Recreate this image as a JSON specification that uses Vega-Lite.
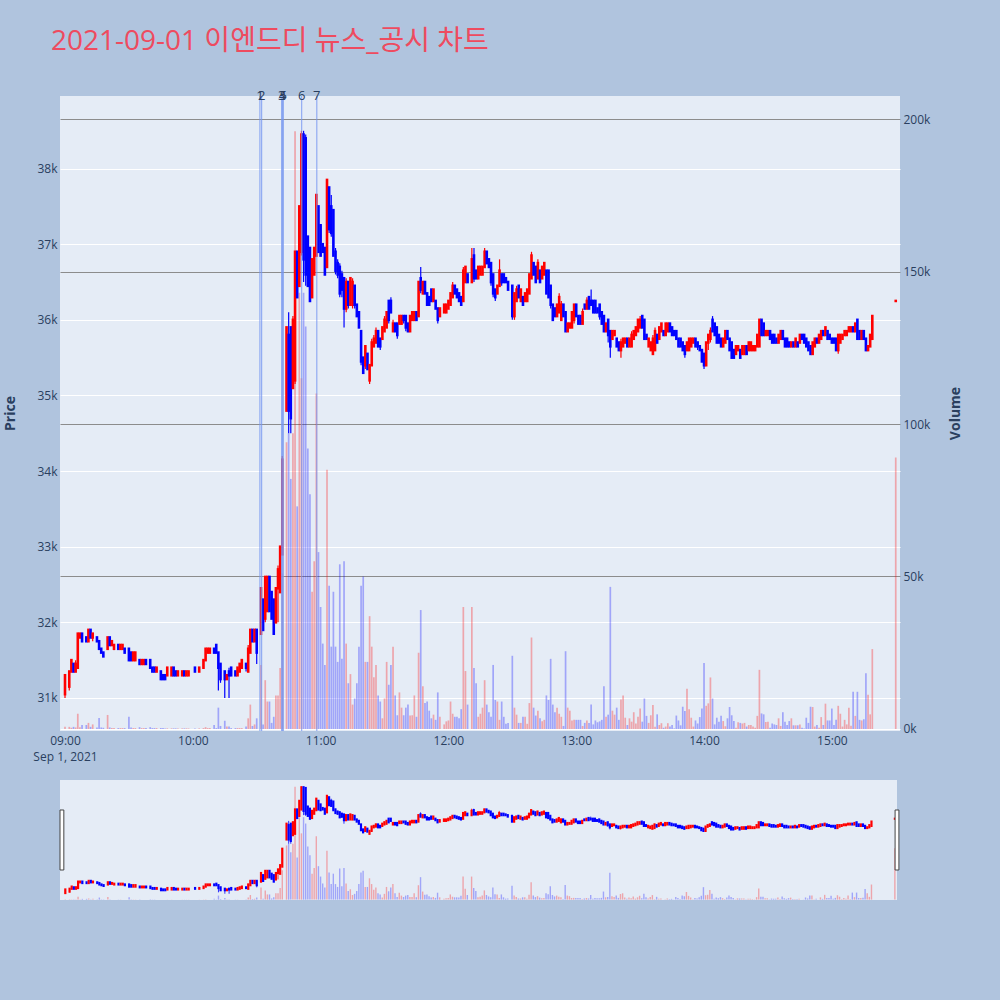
{
"$schema": "https://vega.github.io/schema/vega-lite/v6.json",
"background": "#b0c4de",
"padding": {"left": 3, "top": 28, "right": 38, "bottom": 101},
"title": {"text": "2021-09-01 이엔드디 뉴스_공시 차트", "anchor": "start", "frame": "bounds", "fontSize": 28, "font": "Open Sans, Noto Sans CJK KR, sans-serif", "fontWeight": "normal", "color": "#ee4b5f", "dx": 48, "offset": 34},
"datasets": {
"ohlc": [
{"t":0,"o":31050,"h":31300,"l":31000,"c":31300,"v":700},
{"t":2,"o":31150,"h":31350,"l":31100,"c":31350,"v":700},
{"t":3,"o":31350,"h":31500,"l":31350,"c":31500,"v":400},
{"t":4,"o":31450,"h":31450,"l":31350,"c":31350,"v":700},
{"t":5,"o":31350,"h":31500,"l":31350,"c":31450,"v":500},
{"t":6,"o":31400,"h":31850,"l":31400,"c":31850,"v":5000},
{"t":7,"o":31800,"h":31850,"l":31800,"c":31850,"v":600},
{"t":8,"o":31850,"h":31850,"l":31750,"c":31750,"v":1300},
{"t":10,"o":31800,"h":31800,"l":31750,"c":31750,"v":1300},
{"t":11,"o":31750,"h":31900,"l":31750,"c":31900,"v":2000},
{"t":12,"o":31900,"h":31900,"l":31800,"c":31800,"v":700},
{"t":13,"o":31800,"h":31850,"l":31750,"c":31850,"v":1500},
{"t":15,"o":31800,"h":31800,"l":31750,"c":31750,"v":500},
{"t":16,"o":31750,"h":31750,"l":31650,"c":31650,"v":3600},
{"t":17,"o":31650,"h":31650,"l":31600,"c":31600,"v":500},
{"t":18,"o":31600,"h":31600,"l":31550,"c":31550,"v":400},
{"t":20,"o":31650,"h":31800,"l":31650,"c":31800,"v":4600},
{"t":21,"o":31800,"h":31800,"l":31700,"c":31700,"v":500},
{"t":22,"o":31700,"h":31750,"l":31700,"c":31750,"v":300},
{"t":23,"o":31650,"h":31700,"l":31650,"c":31700,"v":300},
{"t":25,"o":31700,"h":31700,"l":31650,"c":31650,"v":300},
{"t":26,"o":31650,"h":31700,"l":31650,"c":31700,"v":300},
{"t":27,"o":31650,"h":31700,"l":31650,"c":31700,"v":300},
{"t":28,"o":31650,"h":31650,"l":31600,"c":31600,"v":300},
{"t":30,"o":31650,"h":31650,"l":31500,"c":31500,"v":4000},
{"t":31,"o":31600,"h":31600,"l":31500,"c":31500,"v":500},
{"t":32,"o":31500,"h":31600,"l":31500,"c":31600,"v":300},
{"t":33,"o":31500,"h":31600,"l":31500,"c":31600,"v":300},
{"t":35,"o":31500,"h":31500,"l":31450,"c":31450,"v":600},
{"t":36,"o":31450,"h":31500,"l":31450,"c":31500,"v":300},
{"t":37,"o":31450,"h":31500,"l":31450,"c":31500,"v":300},
{"t":38,"o":31500,"h":31500,"l":31450,"c":31450,"v":300},
{"t":40,"o":31500,"h":31500,"l":31400,"c":31400,"v":600},
{"t":41,"o":31400,"h":31400,"l":31350,"c":31350,"v":300},
{"t":42,"o":31400,"h":31400,"l":31350,"c":31350,"v":300},
{"t":43,"o":31350,"h":31400,"l":31350,"c":31400,"v":300},
{"t":45,"o":31350,"h":31350,"l":31250,"c":31250,"v":300},
{"t":46,"o":31300,"h":31300,"l":31250,"c":31250,"v":300},
{"t":47,"o":31300,"h":31300,"l":31250,"c":31250,"v":200},
{"t":48,"o":31300,"h":31400,"l":31300,"c":31400,"v":200},
{"t":50,"o":31300,"h":31400,"l":31300,"c":31400,"v":200},
{"t":51,"o":31400,"h":31400,"l":31300,"c":31300,"v":200},
{"t":52,"o":31350,"h":31350,"l":31300,"c":31300,"v":200},
{"t":53,"o":31300,"h":31350,"l":31300,"c":31350,"v":200},
{"t":55,"o":31300,"h":31350,"l":31300,"c":31350,"v":200},
{"t":56,"o":31350,"h":31350,"l":31300,"c":31300,"v":200},
{"t":57,"o":31300,"h":31350,"l":31300,"c":31350,"v":200},
{"t":58,"o":31300,"h":31350,"l":31300,"c":31350,"v":200},
{"t":61,"o":31400,"h":31400,"l":31350,"c":31350,"v":200},
{"t":63,"o":31350,"h":31400,"l":31350,"c":31400,"v":200},
{"t":65,"o":31400,"h":31500,"l":31400,"c":31500,"v":300},
{"t":66,"o":31500,"h":31650,"l":31500,"c":31650,"v":600},
{"t":67,"o":31600,"h":31650,"l":31600,"c":31650,"v":300},
{"t":68,"o":31600,"h":31650,"l":31600,"c":31650,"v":300},
{"t":70,"o":31650,"h":31650,"l":31600,"c":31600,"v":1300},
{"t":71,"o":31700,"h":31700,"l":31600,"c":31600,"v":300},
{"t":72,"o":31600,"h":31600,"l":31100,"c":31400,"v":7000},
{"t":73,"o":31450,"h":31450,"l":31200,"c":31250,"v":1000},
{"t":75,"o":31350,"h":31350,"l":31000,"c":31250,"v":2700},
{"t":76,"o":31250,"h":31300,"l":31250,"c":31300,"v":800},
{"t":77,"o":31350,"h":31400,"l":31000,"c":31300,"v":800},
{"t":78,"o":31400,"h":31400,"l":31300,"c":31300,"v":300},
{"t":80,"o":31350,"h":31350,"l":31300,"c":31300,"v":300},
{"t":81,"o":31300,"h":31400,"l":31300,"c":31400,"v":300},
{"t":82,"o":31350,"h":31450,"l":31350,"c":31450,"v":300},
{"t":83,"o":31400,"h":31500,"l":31400,"c":31500,"v":300},
{"t":85,"o":31450,"h":31450,"l":31350,"c":31400,"v":800},
{"t":86,"o":31350,"h":31700,"l":31350,"c":31650,"v":3500},
{"t":87,"o":31600,"h":31900,"l":31600,"c":31900,"v":8000},
{"t":88,"o":31900,"h":31900,"l":31750,"c":31750,"v":1000},
{"t":89,"o":31750,"h":31900,"l":31750,"c":31900,"v":1500},
{"t":90,"o":31900,"h":31900,"l":31450,"c":31600,"v":3500},
{"t":92,"o":31850,"h":32450,"l":31850,"c":32450,"v":21000},
{"t":93,"o":32300,"h":32300,"l":31900,"c":31900,"v":1500},
{"t":94,"o":32050,"h":32600,"l":32000,"c":32600,"v":16000},
{"t":95,"o":32150,"h":32600,"l":32150,"c":32600,"v":9000},
{"t":96,"o":32600,"h":32600,"l":32150,"c":32150,"v":9000},
{"t":97,"o":32400,"h":32400,"l":32050,"c":32050,"v":2000},
{"t":98,"o":32300,"h":32300,"l":31850,"c":31850,"v":4000},
{"t":99,"o":32000,"h":32450,"l":32000,"c":32450,"v":11000},
{"t":100,"o":32450,"h":32750,"l":32000,"c":32700,"v":11000},
{"t":101,"o":32400,"h":33000,"l":32400,"c":33000,"v":20000},
{"t":102,"o":32900,"h":34200,"l":32900,"c":34150,"v":51000},
{"t":104,"o":34800,"h":35900,"l":34800,"c":35900,"v":94000},
{"t":105,"o":35800,"h":36100,"l":34500,"c":34800,"v":97000},
{"t":106,"o":35900,"h":35900,"l":34500,"c":34700,"v":82000},
{"t":107,"o":35100,"h":36050,"l":35100,"c":36000,"v":97000},
{"t":108,"o":35200,"h":36900,"l":35150,"c":36900,"v":196000},
{"t":109,"o":36900,"h":36900,"l":36300,"c":36300,"v":73000},
{"t":110,"o":36450,"h":37500,"l":36450,"c":37500,"v":143000},
{"t":111,"o":36900,"h":38500,"l":36850,"c":38450,"v":115000},
{"t":112,"o":38450,"h":38500,"l":36500,"c":36800,"v":143000},
{"t":113,"o":38400,"h":38450,"l":36450,"c":36600,"v":132000},
{"t":114,"o":37100,"h":37100,"l":36450,"c":36450,"v":92000},
{"t":115,"o":36950,"h":36950,"l":36250,"c":36250,"v":77000},
{"t":116,"o":36300,"h":36800,"l":36300,"c":36800,"v":45000},
{"t":117,"o":36600,"h":36950,"l":36600,"c":36950,"v":55000},
{"t":118,"o":36850,"h":37650,"l":36850,"c":37650,"v":110000},
{"t":119,"o":37500,"h":37500,"l":36900,"c":36900,"v":58000},
{"t":120,"o":37250,"h":37250,"l":36850,"c":36850,"v":40000},
{"t":121,"o":37000,"h":37000,"l":36900,"c":36900,"v":28000},
{"t":122,"o":36950,"h":36950,"l":36600,"c":36600,"v":21000},
{"t":123,"o":36700,"h":37850,"l":36700,"c":37850,"v":85000},
{"t":124,"o":37750,"h":37750,"l":37150,"c":37200,"v":47000},
{"t":125,"o":37500,"h":37650,"l":37100,"c":37150,"v":27000},
{"t":126,"o":37450,"h":37450,"l":36850,"c":36850,"v":45000},
{"t":127,"o":36900,"h":36950,"l":36600,"c":36650,"v":27000},
{"t":128,"o":36750,"h":36800,"l":36550,"c":36600,"v":22000},
{"t":129,"o":36700,"h":36750,"l":36300,"c":36350,"v":54000},
{"t":130,"o":36600,"h":36650,"l":36300,"c":36400,"v":23000},
{"t":131,"o":36550,"h":36550,"l":35900,"c":36150,"v":55000},
{"t":132,"o":36150,"h":36550,"l":36100,"c":36500,"v":28000},
{"t":133,"o":36500,"h":36500,"l":36150,"c":36200,"v":15000},
{"t":134,"o":36200,"h":36550,"l":36200,"c":36550,"v":18000},
{"t":135,"o":36200,"h":36550,"l":36150,"c":36500,"v":8000},
{"t":136,"o":36450,"h":36450,"l":36150,"c":36200,"v":10000},
{"t":137,"o":36200,"h":36200,"l":36050,"c":36050,"v":15000},
{"t":138,"o":36100,"h":36100,"l":35900,"c":35900,"v":27000},
{"t":139,"o":35850,"h":35850,"l":35400,"c":35450,"v":47000},
{"t":140,"o":35500,"h":35500,"l":35300,"c":35300,"v":50000},
{"t":141,"o":35400,"h":35650,"l":35350,"c":35650,"v":22000},
{"t":142,"o":35550,"h":35550,"l":35350,"c":35350,"v":22000},
{"t":143,"o":35200,"h":35400,"l":35150,"c":35400,"v":37000},
{"t":144,"o":35400,"h":35750,"l":35400,"c":35700,"v":27000},
{"t":145,"o":35650,"h":35800,"l":35650,"c":35750,"v":17000},
{"t":146,"o":35700,"h":35900,"l":35700,"c":35850,"v":21000},
{"t":147,"o":35850,"h":35850,"l":35650,"c":35650,"v":11000},
{"t":148,"o":35750,"h":35750,"l":35600,"c":35650,"v":9000},
{"t":149,"o":35750,"h":35900,"l":35750,"c":35900,"v":3500},
{"t":150,"o":35850,"h":36050,"l":35850,"c":36000,"v":10000},
{"t":151,"o":35900,"h":36100,"l":35900,"c":36100,"v":22000},
{"t":152,"o":36250,"h":36250,"l":35950,"c":36000,"v":14500},
{"t":153,"o":36250,"h":36300,"l":36100,"c":36100,"v":21000},
{"t":154,"o":35850,"h":36000,"l":35850,"c":35950,"v":27000},
{"t":155,"o":35950,"h":35950,"l":35850,"c":35850,"v":11000},
{"t":156,"o":35950,"h":35950,"l":35750,"c":35800,"v":4500},
{"t":157,"o":35950,"h":36050,"l":35950,"c":36050,"v":12000},
{"t":158,"o":35950,"h":36050,"l":35950,"c":36050,"v":7000},
{"t":159,"o":36050,"h":36050,"l":35950,"c":36000,"v":4500},
{"t":160,"o":36050,"h":36050,"l":35850,"c":35900,"v":7000},
{"t":161,"o":35950,"h":35950,"l":35850,"c":35850,"v":8000},
{"t":162,"o":35850,"h":36050,"l":35850,"c":36050,"v":4400},
{"t":163,"o":36000,"h":36100,"l":36000,"c":36100,"v":4500},
{"t":164,"o":36000,"h":36100,"l":36000,"c":36100,"v":11000},
{"t":165,"o":36100,"h":36100,"l":36000,"c":36000,"v":4000},
{"t":166,"o":36050,"h":36500,"l":36050,"c":36500,"v":25000},
{"t":167,"o":36550,"h":36700,"l":36350,"c":36400,"v":39000},
{"t":168,"o":36350,"h":36500,"l":36350,"c":36500,"v":14000},
{"t":169,"o":36500,"h":36500,"l":36350,"c":36350,"v":8500},
{"t":170,"o":36350,"h":36350,"l":36200,"c":36200,"v":9000},
{"t":171,"o":36300,"h":36300,"l":36200,"c":36200,"v":6000},
{"t":172,"o":36400,"h":36400,"l":36250,"c":36250,"v":3500},
{"t":173,"o":36250,"h":36400,"l":36250,"c":36400,"v":4700},
{"t":174,"o":36250,"h":36250,"l":36150,"c":36150,"v":3000},
{"t":175,"o":36150,"h":36150,"l":35950,"c":36000,"v":12000},
{"t":176,"o":36050,"h":36150,"l":36050,"c":36150,"v":4000},
{"t":178,"o":36100,"h":36200,"l":36100,"c":36200,"v":1500},
{"t":179,"o":36100,"h":36200,"l":36100,"c":36200,"v":2500},
{"t":180,"o":36150,"h":36250,"l":36150,"c":36250,"v":2800},
{"t":181,"o":36200,"h":36350,"l":36200,"c":36350,"v":9000},
{"t":182,"o":36300,"h":36500,"l":36300,"c":36450,"v":5000},
{"t":183,"o":36450,"h":36450,"l":36350,"c":36350,"v":4000},
{"t":184,"o":36400,"h":36400,"l":36300,"c":36300,"v":4000},
{"t":185,"o":36350,"h":36350,"l":36250,"c":36250,"v":3500},
{"t":186,"o":36300,"h":36300,"l":36200,"c":36200,"v":6500},
{"t":187,"o":36250,"h":36700,"l":36250,"c":36650,"v":40000},
{"t":188,"o":36500,"h":36700,"l":36500,"c":36700,"v":19000},
{"t":189,"o":36600,"h":36600,"l":36500,"c":36500,"v":8000},
{"t":191,"o":36500,"h":36950,"l":36500,"c":36800,"v":40000},
{"t":192,"o":36850,"h":36950,"l":36500,"c":36550,"v":20000},
{"t":193,"o":36650,"h":36650,"l":36550,"c":36550,"v":15000},
{"t":194,"o":36550,"h":36700,"l":36550,"c":36700,"v":4000},
{"t":195,"o":36600,"h":36700,"l":36600,"c":36700,"v":5000},
{"t":196,"o":36600,"h":36700,"l":36600,"c":36700,"v":7000},
{"t":197,"o":36700,"h":36950,"l":36700,"c":36900,"v":16000},
{"t":198,"o":36900,"h":36900,"l":36750,"c":36750,"v":8000},
{"t":199,"o":36800,"h":36800,"l":36700,"c":36700,"v":5500},
{"t":200,"o":36750,"h":36750,"l":36450,"c":36500,"v":4000},
{"t":201,"o":36600,"h":36600,"l":36300,"c":36350,"v":21000},
{"t":202,"o":36400,"h":36400,"l":36250,"c":36300,"v":9500},
{"t":203,"o":36350,"h":36450,"l":36350,"c":36450,"v":9000},
{"t":204,"o":36450,"h":36800,"l":36450,"c":36650,"v":3000},
{"t":205,"o":36600,"h":36600,"l":36450,"c":36500,"v":9000},
{"t":206,"o":36600,"h":36600,"l":36500,"c":36500,"v":4000},
{"t":207,"o":36550,"h":36550,"l":36500,"c":36500,"v":1700},
{"t":208,"o":36500,"h":36500,"l":36400,"c":36400,"v":2000},
{"t":210,"o":36450,"h":36450,"l":36000,"c":36050,"v":24000},
{"t":211,"o":36050,"h":36350,"l":36000,"c":36350,"v":7000},
{"t":212,"o":36250,"h":36450,"l":36250,"c":36400,"v":4700},
{"t":213,"o":36450,"h":36450,"l":36300,"c":36300,"v":2000},
{"t":214,"o":36250,"h":36400,"l":36250,"c":36400,"v":2000},
{"t":215,"o":36300,"h":36300,"l":36200,"c":36200,"v":4000},
{"t":216,"o":36250,"h":36350,"l":36250,"c":36350,"v":4000},
{"t":217,"o":36250,"h":36400,"l":36250,"c":36400,"v":1700},
{"t":218,"o":36350,"h":36600,"l":36350,"c":36600,"v":8500},
{"t":219,"o":36550,"h":36900,"l":36550,"c":36850,"v":30000},
{"t":220,"o":36750,"h":36750,"l":36600,"c":36600,"v":7000},
{"t":221,"o":36700,"h":36700,"l":36500,"c":36500,"v":4400},
{"t":222,"o":36550,"h":36800,"l":36550,"c":36750,"v":6000},
{"t":223,"o":36650,"h":36650,"l":36500,"c":36500,"v":3500},
{"t":224,"o":36550,"h":36700,"l":36550,"c":36700,"v":2500},
{"t":225,"o":36600,"h":36750,"l":36600,"c":36750,"v":3000},
{"t":226,"o":36650,"h":36650,"l":36350,"c":36350,"v":11000},
{"t":227,"o":36650,"h":36650,"l":36300,"c":36300,"v":9500},
{"t":228,"o":36450,"h":36450,"l":36150,"c":36200,"v":23000},
{"t":229,"o":36200,"h":36200,"l":36000,"c":36000,"v":8000},
{"t":230,"o":36150,"h":36150,"l":36050,"c":36050,"v":5500},
{"t":231,"o":36050,"h":36200,"l":36050,"c":36200,"v":7000},
{"t":232,"o":36100,"h":36350,"l":36100,"c":36300,"v":5000},
{"t":233,"o":36000,"h":36250,"l":36000,"c":36200,"v":4000},
{"t":234,"o":36200,"h":36200,"l":36050,"c":36050,"v":1000},
{"t":235,"o":36100,"h":36100,"l":35850,"c":35850,"v":25500},
{"t":236,"o":35850,"h":35950,"l":35850,"c":35950,"v":7000},
{"t":237,"o":35900,"h":35950,"l":35900,"c":35950,"v":6000},
{"t":238,"o":35900,"h":36100,"l":35900,"c":36100,"v":2800},
{"t":239,"o":36000,"h":36200,"l":35950,"c":36200,"v":3000},
{"t":240,"o":36200,"h":36200,"l":36050,"c":36050,"v":3000},
{"t":241,"o":36050,"h":36050,"l":35950,"c":35950,"v":3000},
{"t":242,"o":36050,"h":36050,"l":35950,"c":35950,"v":3000},
{"t":243,"o":35950,"h":36150,"l":35950,"c":36100,"v":1000},
{"t":244,"o":36200,"h":36200,"l":36150,"c":36150,"v":2000},
{"t":245,"o":36150,"h":36300,"l":36150,"c":36250,"v":2800},
{"t":246,"o":36300,"h":36300,"l":36150,"c":36150,"v":2000},
{"t":247,"o":36250,"h":36400,"l":36200,"c":36200,"v":8000},
{"t":248,"o":36250,"h":36250,"l":36100,"c":36100,"v":1500},
{"t":249,"o":36250,"h":36250,"l":36100,"c":36100,"v":2800},
{"t":250,"o":36150,"h":36150,"l":36100,"c":36100,"v":2200},
{"t":251,"o":36200,"h":36200,"l":36000,"c":36050,"v":2500},
{"t":252,"o":36100,"h":36100,"l":35950,"c":35950,"v":3000},
{"t":253,"o":36050,"h":36050,"l":35850,"c":35850,"v":14000},
{"t":254,"o":35850,"h":35950,"l":35850,"c":35950,"v":4000},
{"t":255,"o":36000,"h":36000,"l":35700,"c":35800,"v":4700},
{"t":256,"o":35850,"h":35850,"l":35500,"c":35650,"v":46600},
{"t":257,"o":35750,"h":35850,"l":35750,"c":35850,"v":6000},
{"t":258,"o":35800,"h":35850,"l":35800,"c":35850,"v":4700},
{"t":259,"o":35750,"h":35750,"l":35650,"c":35650,"v":7000},
{"t":260,"o":35700,"h":35700,"l":35600,"c":35600,"v":3000},
{"t":261,"o":35600,"h":35750,"l":35500,"c":35700,"v":9700},
{"t":262,"o":35650,"h":35750,"l":35650,"c":35750,"v":11000},
{"t":263,"o":35700,"h":35750,"l":35700,"c":35750,"v":3700},
{"t":264,"o":35750,"h":35750,"l":35650,"c":35650,"v":1300},
{"t":265,"o":35650,"h":35750,"l":35650,"c":35750,"v":3500},
{"t":266,"o":35650,"h":35850,"l":35650,"c":35800,"v":2400},
{"t":267,"o":35750,"h":35850,"l":35750,"c":35850,"v":5500},
{"t":268,"o":35800,"h":35900,"l":35800,"c":35900,"v":1800},
{"t":269,"o":35850,"h":36000,"l":35850,"c":36000,"v":4000},
{"t":270,"o":35900,"h":36050,"l":35900,"c":36000,"v":6700},
{"t":271,"o":36050,"h":36050,"l":35900,"c":35900,"v":2400},
{"t":272,"o":36000,"h":36000,"l":35750,"c":35750,"v":10000},
{"t":273,"o":35800,"h":35800,"l":35750,"c":35750,"v":4300},
{"t":274,"o":35650,"h":35750,"l":35650,"c":35750,"v":2000},
{"t":275,"o":35600,"h":35700,"l":35600,"c":35700,"v":4500},
{"t":276,"o":35550,"h":35800,"l":35550,"c":35750,"v":7900},
{"t":277,"o":35600,"h":35900,"l":35600,"c":35850,"v":700},
{"t":278,"o":35800,"h":35800,"l":35700,"c":35700,"v":4800},
{"t":279,"o":35750,"h":35900,"l":35750,"c":35900,"v":1300},
{"t":280,"o":35850,"h":35950,"l":35850,"c":35950,"v":1900},
{"t":281,"o":35850,"h":35850,"l":35800,"c":35800,"v":400},
{"t":282,"o":35800,"h":35950,"l":35800,"c":35950,"v":800},
{"t":283,"o":35850,"h":35950,"l":35850,"c":35950,"v":1900},
{"t":284,"o":35950,"h":35950,"l":35850,"c":35850,"v":800},
{"t":285,"o":35900,"h":35900,"l":35800,"c":35800,"v":1300},
{"t":286,"o":35850,"h":35850,"l":35800,"c":35800,"v":200},
{"t":287,"o":35850,"h":35850,"l":35750,"c":35750,"v":4400},
{"t":288,"o":35750,"h":35750,"l":35650,"c":35650,"v":2800},
{"t":289,"o":35750,"h":35750,"l":35650,"c":35650,"v":1200},
{"t":290,"o":35700,"h":35700,"l":35600,"c":35600,"v":7300},
{"t":291,"o":35650,"h":35650,"l":35500,"c":35550,"v":5900},
{"t":292,"o":35600,"h":35700,"l":35600,"c":35700,"v":13200},
{"t":293,"o":35600,"h":35750,"l":35600,"c":35750,"v":6500},
{"t":294,"o":35650,"h":35750,"l":35650,"c":35750,"v":3700},
{"t":295,"o":35700,"h":35750,"l":35700,"c":35750,"v":800},
{"t":296,"o":35750,"h":35750,"l":35650,"c":35650,"v":2800},
{"t":297,"o":35700,"h":35700,"l":35600,"c":35650,"v":1800},
{"t":298,"o":35650,"h":35650,"l":35600,"c":35600,"v":3900},
{"t":299,"o":35600,"h":35600,"l":35450,"c":35450,"v":6700},
{"t":300,"o":35550,"h":35550,"l":35350,"c":35400,"v":21600},
{"t":301,"o":35400,"h":35700,"l":35400,"c":35700,"v":7600},
{"t":302,"o":35700,"h":35800,"l":35600,"c":35800,"v":8400},
{"t":303,"o":35750,"h":35900,"l":35700,"c":35850,"v":16900},
{"t":304,"o":36000,"h":36050,"l":35850,"c":35850,"v":10000},
{"t":305,"o":35950,"h":35950,"l":35800,"c":35800,"v":1500},
{"t":306,"o":35900,"h":35900,"l":35700,"c":35700,"v":3700},
{"t":307,"o":35800,"h":35800,"l":35700,"c":35700,"v":2400},
{"t":308,"o":35750,"h":35750,"l":35650,"c":35650,"v":4300},
{"t":309,"o":35650,"h":35750,"l":35650,"c":35750,"v":2600},
{"t":310,"o":35700,"h":35850,"l":35700,"c":35850,"v":900},
{"t":311,"o":35850,"h":35850,"l":35750,"c":35750,"v":3500},
{"t":312,"o":35750,"h":35750,"l":35600,"c":35600,"v":7200},
{"t":313,"o":35700,"h":35700,"l":35500,"c":35500,"v":4500},
{"t":314,"o":35600,"h":35600,"l":35500,"c":35500,"v":2600},
{"t":315,"o":35550,"h":35650,"l":35550,"c":35650,"v":400},
{"t":316,"o":35600,"h":35650,"l":35600,"c":35650,"v":2200},
{"t":317,"o":35600,"h":35600,"l":35500,"c":35500,"v":2000},
{"t":318,"o":35550,"h":35650,"l":35550,"c":35650,"v":1800},
{"t":319,"o":35550,"h":35650,"l":35550,"c":35650,"v":2000},
{"t":320,"o":35650,"h":35650,"l":35550,"c":35550,"v":800},
{"t":321,"o":35600,"h":35700,"l":35600,"c":35700,"v":1300},
{"t":322,"o":35600,"h":35700,"l":35600,"c":35700,"v":1300},
{"t":323,"o":35600,"h":35650,"l":35600,"c":35650,"v":800},
{"t":324,"o":35600,"h":35650,"l":35600,"c":35650,"v":400},
{"t":325,"o":35650,"h":35800,"l":35650,"c":35800,"v":4300},
{"t":326,"o":35650,"h":36000,"l":35650,"c":36000,"v":19400},
{"t":327,"o":36000,"h":36000,"l":35800,"c":35800,"v":5100},
{"t":328,"o":35950,"h":35950,"l":35800,"c":35800,"v":4800},
{"t":329,"o":35800,"h":35850,"l":35800,"c":35850,"v":2300},
{"t":330,"o":35800,"h":35850,"l":35800,"c":35850,"v":2400},
{"t":331,"o":35850,"h":35850,"l":35750,"c":35750,"v":400},
{"t":332,"o":35800,"h":35800,"l":35700,"c":35700,"v":1800},
{"t":333,"o":35800,"h":35800,"l":35700,"c":35700,"v":1500},
{"t":334,"o":35750,"h":35750,"l":35700,"c":35700,"v":1300},
{"t":335,"o":35700,"h":35800,"l":35700,"c":35800,"v":3500},
{"t":336,"o":35750,"h":35850,"l":35750,"c":35850,"v":1000},
{"t":337,"o":35850,"h":35850,"l":35750,"c":35750,"v":5500},
{"t":338,"o":35750,"h":35750,"l":35650,"c":35650,"v":2400},
{"t":339,"o":35750,"h":35750,"l":35650,"c":35650,"v":1300},
{"t":340,"o":35700,"h":35700,"l":35650,"c":35650,"v":2600},
{"t":341,"o":35650,"h":35700,"l":35650,"c":35700,"v":3500},
{"t":342,"o":35700,"h":35700,"l":35650,"c":35650,"v":1200},
{"t":343,"o":35650,"h":35750,"l":35650,"c":35750,"v":1200},
{"t":344,"o":35700,"h":35700,"l":35650,"c":35650,"v":1200},
{"t":345,"o":35700,"h":35800,"l":35700,"c":35800,"v":1500},
{"t":346,"o":35800,"h":35800,"l":35750,"c":35750,"v":400},
{"t":347,"o":35800,"h":35800,"l":35700,"c":35700,"v":200},
{"t":348,"o":35750,"h":35750,"l":35650,"c":35650,"v":3700},
{"t":349,"o":35700,"h":35700,"l":35600,"c":35600,"v":2000},
{"t":350,"o":35650,"h":35650,"l":35550,"c":35550,"v":7300},
{"t":351,"o":35550,"h":35700,"l":35550,"c":35700,"v":7200},
{"t":352,"o":35650,"h":35750,"l":35650,"c":35750,"v":800},
{"t":353,"o":35750,"h":35750,"l":35700,"c":35700,"v":1300},
{"t":354,"o":35700,"h":35800,"l":35700,"c":35800,"v":400},
{"t":355,"o":35750,"h":35850,"l":35750,"c":35850,"v":3900},
{"t":356,"o":35850,"h":35850,"l":35800,"c":35800,"v":1300},
{"t":357,"o":35800,"h":35900,"l":35800,"c":35900,"v":8300},
{"t":358,"o":35850,"h":35850,"l":35750,"c":35750,"v":2800},
{"t":359,"o":35800,"h":35800,"l":35750,"c":35750,"v":2800},
{"t":360,"o":35750,"h":35750,"l":35700,"c":35700,"v":6700},
{"t":361,"o":35750,"h":35750,"l":35700,"c":35700,"v":1300},
{"t":362,"o":35750,"h":35750,"l":35600,"c":35600,"v":3000},
{"t":363,"o":35600,"h":35800,"l":35550,"c":35800,"v":7600},
{"t":364,"o":35700,"h":35800,"l":35700,"c":35800,"v":5000},
{"t":365,"o":35750,"h":35800,"l":35750,"c":35800,"v":800},
{"t":366,"o":35800,"h":35850,"l":35800,"c":35850,"v":3000},
{"t":367,"o":35800,"h":35850,"l":35800,"c":35850,"v":1500},
{"t":368,"o":35850,"h":35900,"l":35850,"c":35900,"v":7000},
{"t":369,"o":35850,"h":35900,"l":35850,"c":35900,"v":1100},
{"t":370,"o":35900,"h":35900,"l":35850,"c":35850,"v":12200},
{"t":371,"o":35850,"h":35950,"l":35850,"c":35950,"v":4300},
{"t":372,"o":36000,"h":36000,"l":35750,"c":35750,"v":12200},
{"t":373,"o":35850,"h":35850,"l":35750,"c":35750,"v":3000},
{"t":374,"o":35750,"h":35850,"l":35750,"c":35850,"v":2800},
{"t":375,"o":35850,"h":35850,"l":35750,"c":35750,"v":3200},
{"t":376,"o":35750,"h":35750,"l":35600,"c":35600,"v":18300},
{"t":377,"o":35600,"h":35650,"l":35600,"c":35650,"v":11200},
{"t":378,"o":35650,"h":35800,"l":35650,"c":35800,"v":4800},
{"t":379,"o":35750,"h":36050,"l":35750,"c":36050,"v":26200},
{"t":390,"o":36250,"h":36250,"l":36250,"c":36250,"v":89000}
],
"events": [
{"n":"1","t":91.5},{"n":"2","t":92.3},{"n":"3","t":101.7},{"n":"4","t":102.1},{"n":"5","t":102.5},{"n":"6","t":111.1},{"n":"7","t":118.2}
]
},
"bounds": "flush",
"spacing": 49,
"vconcat": [
{
"width": 840,
"height": 635,
"layer": [
{
"data": {"name": "ohlc"},
"mark": {"type": "bar", "width": 1.7, "opacity": 0.3},
"encoding": {
"x": {"field": "t", "type": "quantitative", "scale": {"domain": [-2.35, 392], "nice": false, "zero": false, "padding": 0},
"axis": {"values": [0, 60, 120, 180, 240, 300, 360], "grid": false, "title": null, "labelPadding": 4, "labelLineHeight": 16,
"labelExpr": "datum.value == 0 ? ['09:00', 'Sep 1, 2021'] : (((9 + datum.value / 60) < 10) ? '0' : '') + (9 + datum.value / 60) + ':00'"}},
"y": {"field": "v", "type": "quantitative", "title": "Volume",
"scale": {"domain": [-660, 207550], "nice": false, "zero": false},
"axis": {"orient": "right", "values": [0, 50000, 100000, 150000, 200000], "format": "~s", "grid": true,
"gridColor": {"condition": {"test": "datum.value === 0", "value": "#ffffff"}, "value": "#8c8c8c"}, "gridWidth": 1,
"labelPadding": 3, "titleX": 55, "titleY": 317, "titleAngle": 270, "titleBaseline": "middle"}},
"y2": {"datum": 0},
"color": {"condition": {"test": "datum.c >= datum.o", "value": "#ff0000"}, "value": "#0000ff"}
}
},
{
"layer": [
{
"data": {"name": "ohlc"},
"mark": {"type": "rule", "strokeWidth": 1.2},
"encoding": {
"x": {"field": "t", "type": "quantitative", "scale": {"domain": [-2.35, 392], "nice": false, "zero": false, "padding": 0}},
"y": {"field": "l", "type": "quantitative", "title": "Price",
"scale": {"domain": [30563, 38960], "nice": false, "zero": false},
"axis": {"orient": "left", "values": [31000, 32000, 33000, 34000, 35000, 36000, 37000, 38000], "format": "~s", "grid": true, "gridColor": "#ffffff", "gridWidth": 1,
"labelPadding": 3, "titleX": -50, "titleY": 317, "titleAngle": 270, "titleBaseline": "middle"}},
"y2": {"field": "h"},
"color": {"condition": {"test": "datum.c >= datum.o", "value": "#ff0000"}, "value": "#0000ff"}
}
},
{
"data": {"name": "ohlc"},
"mark": {"type": "rule", "strokeWidth": 2.6, "strokeCap": "square"},
"encoding": {
"x": {"field": "t", "type": "quantitative"},
"y": {"field": "o", "type": "quantitative", "title": "Price"},
"y2": {"field": "c"},
"color": {"condition": {"test": "datum.c >= datum.o", "value": "#ff0000"}, "value": "#0000ff"}
}
},
{
"data": {"name": "events"},
"mark": {"type": "rule", "color": "#7595f0", "opacity": 0.75, "strokeWidth": 1.2},
"encoding": {
"x": {"field": "t", "type": "quantitative"}
}
},
{
"data": {"name": "events"},
"mark": {"type": "text", "fontSize": 13, "color": "#2a3f5f", "baseline": "middle", "align": "center", "font": "Open Sans"},
"encoding": {
"x": {"field": "t", "type": "quantitative"},
"y": {"datum": 38960, "type": "quantitative", "title": "Price"},
"text": {"field": "n"}
}
}
]
}
],
"resolve": {"scale": {"y": "independent"}}
},
{
"width": 837,
"height": 120,
"layer": [
{
"data": {"name": "ohlc"},
"mark": {"type": "bar", "width": 1.4, "opacity": 0.3},
"encoding": {
"x": {"field": "t", "type": "quantitative", "scale": {"domain": [-2.5, 391], "nice": false, "zero": false, "padding": 0}, "axis": null},
"y": {"field": "v", "type": "quantitative", "scale": {"domain": [-660, 207550], "nice": false, "zero": false}, "axis": null},
"y2": {"datum": 0},
"color": {"condition": {"test": "datum.c >= datum.o", "value": "#ff0000"}, "value": "#0000ff"}
}
},
{
"layer": [
{
"data": {"name": "ohlc"},
"mark": {"type": "rule", "strokeWidth": 0.8},
"encoding": {
"x": {"field": "t", "type": "quantitative", "scale": {"domain": [-2.5, 391], "nice": false, "zero": false, "padding": 0}, "axis": null},
"y": {"field": "l", "type": "quantitative", "scale": {"domain": [30563, 38960], "nice": false, "zero": false}, "axis": null},
"y2": {"field": "h"},
"color": {"condition": {"test": "datum.c >= datum.o", "value": "#ff0000"}, "value": "#0000ff"}
}
},
{
"data": {"name": "ohlc"},
"mark": {"type": "rule", "strokeWidth": 2.2, "strokeCap": "square"},
"encoding": {
"x": {"field": "t", "type": "quantitative"},
"y": {"field": "o", "type": "quantitative"},
"y2": {"field": "c"},
"color": {"condition": {"test": "datum.c >= datum.o", "value": "#ff0000"}, "value": "#0000ff"}
}
},
{
"data": {"values": [{}]},
"mark": {"type": "rect", "fill": "#ffffff", "stroke": "#444444", "strokeWidth": 1},
"encoding": {
"x": {"datum": -2.5, "type": "quantitative"},
"x2": {"datum": -0.7},
"y": {"datum": 36861, "type": "quantitative"},
"y2": {"datum": 32662}
}
},
{
"data": {"values": [{}]},
"mark": {"type": "rect", "fill": "#ffffff", "stroke": "#444444", "strokeWidth": 1},
"encoding": {
"x": {"datum": 390.1, "type": "quantitative"},
"x2": {"datum": 391.9},
"y": {"datum": 36861, "type": "quantitative"},
"y2": {"datum": 32662}
}
}
]
}
],
"resolve": {"scale": {"y": "independent"}}
}
],
"config": {
"view": {"fill": "#e5ecf6", "stroke": null},
"axis": {"labelFont": "Open Sans", "labelFontSize": 12, "labelColor": "#2a3f5f", "titleFont": "Open Sans", "titleColor": "#2a3f5f", "titleFontSize": 14, "titleFontWeight": "bold", "domain": false, "ticks": false, "tickSize": 0}
}
}
